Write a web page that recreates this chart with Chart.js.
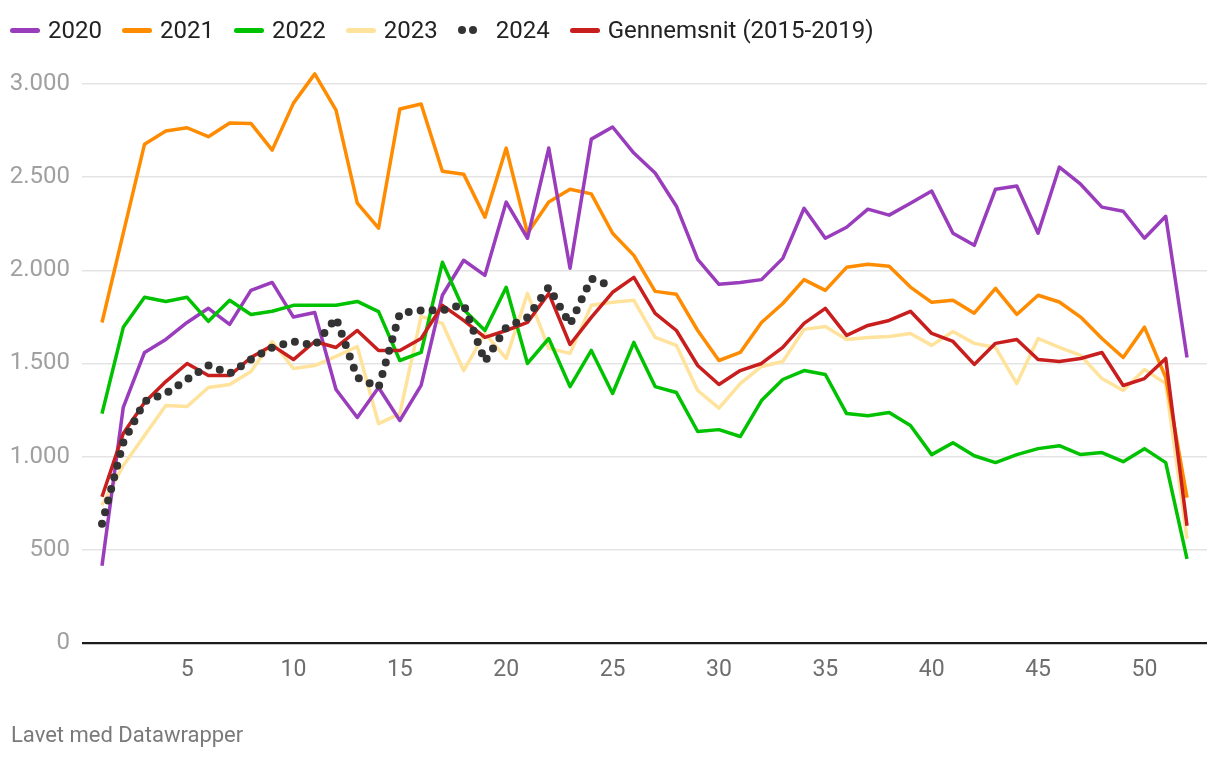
<!DOCTYPE html>
<html>
<head>
<meta charset="utf-8">
<script src="https://cdn.jsdelivr.net/npm/chart.js@4"></script>
<style>
  html, body { margin: 0; padding: 0; background: #fff; }
  #wrap { position: relative; width: 1220px; height: 760px; font-family: Roboto, sans-serif; }
  #c { position: absolute; left: 0; top: 0; }
  #legend { position: absolute; left: 10px; top: 14px; display: flex; align-items: center; height: 32px; }
  .item { display: flex; align-items: center; margin-right: 20px; }
  .sw { width: 30px; height: 5px; border-radius: 3px; margin-right: 8px; }
  .dots { width: 30px; height: 8px; margin-right: 8px; position: relative; }
  .dots span { position: absolute; top: 0; width: 8px; height: 8px; border-radius: 50%; background: #333; }
  .lt { font-size: 24px; color: #222; line-height: 32px; }
  #foot { position: absolute; left: 11px; top: 722px; font-size: 22px; color: #7a7a7a; }
</style>
</head>
<body>
<div id="wrap">
  <canvas id="c" width="1220" height="760"></canvas>
  <div id="legend"></div>
  <div id="foot">Lavet med Datawrapper</div>
</div>
<script>
const weeks = [1,2,3,4,5,6,7,8,9,10,11,12,13,14,15,16,17,18,19,20,21,22,23,24,25,26,27,28,29,30,31,32,33,34,35,36,37,38,39,40,41,42,43,44,45,46,47,48,49,50,51,52];
const xTicks = [5,10,15,20,25,30,35,40,45,50];
const yTicks = [0,500,1000,1500,2000,2500,3000];

const s2020 = [414,1265,1559,1629,1720,1796,1710,1892,1935,1749,1774,1360,1210,1371,1194,1382,1866,2054,1973,2366,2172,2656,2011,2704,2769,2629,2522,2344,2059,1925,1935,1950,2064,2333,2172,2231,2328,2296,2360,2425,2199,2134,2435,2452,2199,2554,2462,2339,2317,2172,2290,1532];
const s2021 = [1720,2200,2677,2747,2765,2717,2790,2788,2645,2897,3054,2860,2360,2226,2866,2892,2532,2516,2285,2656,2199,2366,2435,2410,2199,2080,1887,1871,1677,1516,1559,1720,1822,1950,1892,2016,2032,2022,1910,1828,1839,1770,1903,1763,1866,1830,1749,1634,1532,1695,1425,780];
const s2022 = [1231,1694,1855,1833,1855,1726,1839,1763,1780,1812,1812,1812,1833,1778,1516,1559,2043,1790,1677,1909,1500,1634,1376,1570,1339,1613,1376,1344,1135,1145,1108,1301,1414,1462,1441,1231,1220,1237,1167,1011,1075,1005,968,1011,1043,1059,1011,1022,973,1043,968,452];
const s2023 = [740,952,1113,1274,1269,1371,1387,1457,1618,1473,1489,1538,1591,1177,1231,1753,1715,1462,1661,1527,1876,1581,1554,1812,1828,1839,1640,1597,1355,1260,1392,1484,1511,1683,1699,1629,1640,1645,1661,1597,1672,1608,1586,1392,1634,1586,1543,1419,1355,1468,1392,560];
const s2024 = [640,1075,1296,1339,1414,1489,1446,1521,1586,1618,1597,1745,1425,1371,1769,1785,1785,1817,1511,1694,1747,1910,1710,1955,1914];
const sAvg = [785,1124,1290,1403,1500,1435,1435,1532,1597,1521,1618,1586,1677,1570,1570,1634,1812,1731,1640,1677,1720,1876,1602,1747,1882,1962,1769,1677,1489,1387,1462,1500,1586,1715,1796,1651,1704,1731,1780,1661,1618,1495,1608,1629,1521,1511,1527,1559,1382,1419,1527,629];

const names = ['2020','2021','2022','2023','2024','Gennemsnit (2015-2019)'];
const colors = ['#993dbd','#ff8c00','#00c200','#ffe39c','#333333','#c81e1e'];
const series = [s2020, s2021, s2022, s2023, s2024, sAvg];
const orders = [4, 5, 3, 6, 0, 1];

const pts = arr => arr.map((v, i) => ({ x: weeks[i], y: v }));

const datasets = series.map((s, i) => {
  const ds = {
    label: names[i],
    data: pts(s),
    borderColor: colors[i],
    backgroundColor: colors[i],
    borderWidth: 3.5,
    pointRadius: 0,
    pointHoverRadius: 0,
    tension: 0,
    fill: false,
    borderJoinStyle: 'round',
    borderCapStyle: 'butt',
    order: orders[i]
  };
  if (names[i] === '2024') {
    ds.borderDash = [0, 12];
    ds.borderCapStyle = 'round';
    ds.borderWidth = 8;
  }
  return ds;
});

// HTML legend
const leg = document.getElementById('legend');
names.forEach((n, i) => {
  const it = document.createElement('div');
  it.className = 'item';
  if (n === '2024') {
    const d = document.createElement('div');
    d.className = 'dots';
    d.innerHTML = '<span style="left:0"></span><span style="left:11px"></span>';
    it.appendChild(d);
  } else {
    const sw = document.createElement('div');
    sw.className = 'sw';
    sw.style.background = colors[i];
    it.appendChild(sw);
  }
  const t = document.createElement('span');
  t.className = 'lt';
  t.textContent = n;
  it.appendChild(t);
  leg.appendChild(it);
});

const fmt = v => v.toLocaleString('da-DK');

new Chart(document.getElementById('c'), {
  type: 'line',
  data: { datasets },
  options: {
    responsive: false,
    animation: false,
    events: [],
    layout: { padding: { top: 56, right: 13, bottom: 67, left: 0 } },
    plugins: { legend: { display: false }, tooltip: { enabled: false } },
    scales: {
      x: {
        type: 'linear',
        min: 0.06,
        max: 52.94,
        afterBuildTicks: s => { s.ticks = xTicks.map(v => ({ value: v })); },
        afterFit: s => { s.height = 50; },
        grid: { display: false, drawTicks: false },
        border: { display: false },
        ticks: {
          padding: 13,
          color: '#6e6e6e',
          font: { family: 'Roboto', size: 23 },
          maxRotation: 0,
          autoSkip: false,
          callback: v => String(v)
        }
      },
      y: {
        type: 'linear',
        min: 0,
        max: 3150,
        afterBuildTicks: s => { s.ticks = yTicks.map(v => ({ value: v })); },
        afterFit: s => { s.width = 82; },
        grid: {
          drawTicks: false,
          color: c => (c.tick && c.tick.value === 0) ? '#1c1c1c' : '#e4e4e4',
          lineWidth: c => (c.tick && c.tick.value === 0) ? 2.2 : 1.5
        },
        border: { display: false },
        ticks: {
          padding: 12,
          color: '#a0a0a0',
          font: { family: 'Roboto', size: 24 },
          callback: v => fmt(v)
        }
      }
    }
  }
});
</script>
</body>
</html>
